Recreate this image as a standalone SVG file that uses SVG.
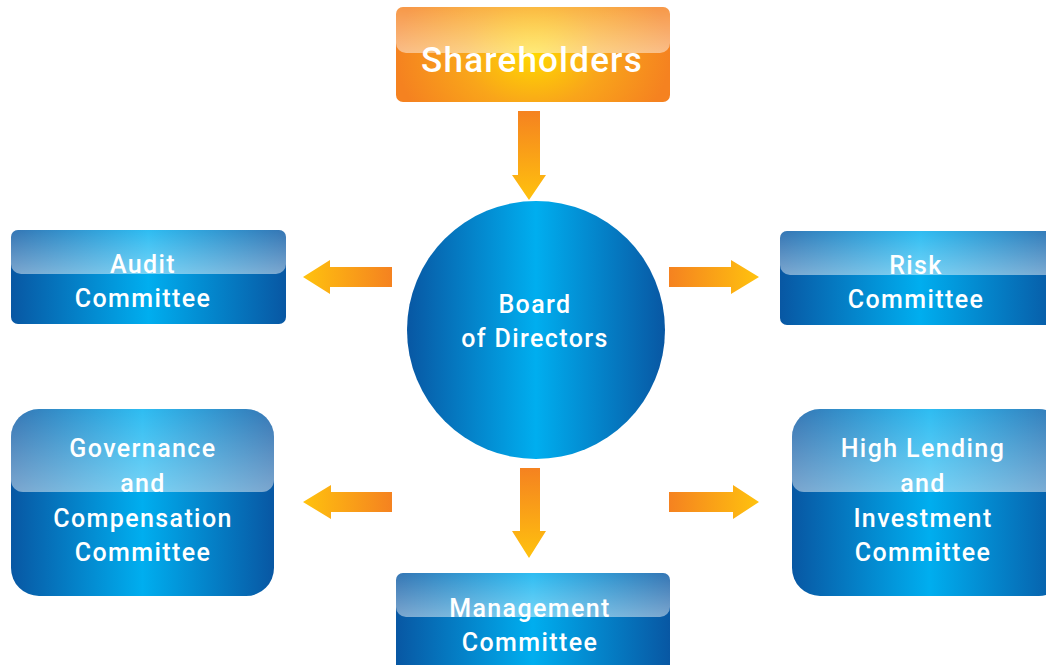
<svg xmlns="http://www.w3.org/2000/svg" width="1046" height="665" viewBox="0 0 1046 665">
<defs>
<linearGradient id="blue" x1="0" y1="0" x2="1" y2="0">
<stop offset="0" stop-color="#0857a3"/>
<stop offset="0.5" stop-color="#00aeef"/>
<stop offset="1" stop-color="#0857a3"/>
</linearGradient>
<linearGradient id="gloss" x1="0" y1="0" x2="0" y2="1">
<stop offset="0" stop-color="#ffffff" stop-opacity="0.18"/>
<stop offset="1" stop-color="#ffffff" stop-opacity="0.47"/>
</linearGradient>
<radialGradient id="orange" cx="0.5" cy="0.5" r="0.5" gradientTransform="translate(0.5 0.5) scale(1 2.2) translate(-0.5 -0.5)">
<stop offset="0" stop-color="#ffd800"/>
<stop offset="0.5" stop-color="#f9a51a"/>
<stop offset="1" stop-color="#f58220"/>
</radialGradient>
<linearGradient id="arrDown" x1="0" y1="0" x2="0" y2="1">
<stop offset="0" stop-color="#f58220"/>
<stop offset="1" stop-color="#ffc20e"/>
</linearGradient>
<linearGradient id="arrLeft" x1="1" y1="0" x2="0" y2="0">
<stop offset="0" stop-color="#f58220"/>
<stop offset="1" stop-color="#ffc20e"/>
</linearGradient>
<linearGradient id="arrRight" x1="0" y1="0" x2="1" y2="0">
<stop offset="0" stop-color="#f58220"/>
<stop offset="1" stop-color="#ffc20e"/>
</linearGradient>
</defs>
<style>
.box{fill:url(#blue);}
.gl{fill:url(#gloss);}
.t{font-family:Roboto,"Open Sans",sans-serif;font-weight:500;fill:#ffffff;text-anchor:middle;font-size:25px;letter-spacing:1.4px;}
</style>
<rect width="1046" height="665" fill="#ffffff"/>

<g id="connectors">
<path d="M518,111 H540 V175 H546 L529,200 L512,175 H518 Z" fill="url(#arrDown)"/>
<path d="M520,468 H540 V531 H546 L529,558 L512,531 H520 Z" fill="url(#arrDown)"/>
<path d="M392,267 V287 H330 V294 L303,277 L330,260 V267 Z" fill="url(#arrLeft)"/>
<path d="M392,492 V512 H331 V519 L303,502 L331,485 V492 Z" fill="url(#arrLeft)"/>
<path d="M669,267 V287 H731 V294 L759,277 L731,260 V267 Z" fill="url(#arrRight)"/>
<path d="M669,492 V512 H733 V519 L759,502 L733,485 V492 Z" fill="url(#arrRight)"/>
</g>

<g id="shareholders">
<rect x="396" y="7" width="274" height="95" rx="7" fill="url(#orange)"/>
<path class="gl" d="M396,14 a7,7 0 0 1 7,-7 H663 a7,7 0 0 1 7,7 V43 a10,10 0 0 1 -10,10 H406 a10,10 0 0 1 -10,-10 Z"/>
<text class="t" x="532" y="72" style="font-size:35px;letter-spacing:1.2px">Shareholders</text>
</g>

<g id="board">
<circle cx="536" cy="330" r="129" fill="url(#blue)"/>
<text class="t" x="535" y="313">Board</text>
<text class="t" x="535" y="347">of Directors</text>
</g>

<g id="audit">
<rect class="box" x="11" y="230" width="275" height="94" rx="7"/>
<path class="gl" d="M11,237 a7,7 0 0 1 7,-7 H279 a7,7 0 0 1 7,7 V264 a10,10 0 0 1 -10,10 H21 a10,10 0 0 1 -10,-10 Z"/>
<text class="t" x="143" y="273">Audit</text>
<text class="t" x="143" y="307">Committee</text>
</g>

<g id="risk">
<rect class="box" x="780" y="231" width="280" height="94" rx="7"/>
<path class="gl" d="M780,238 a7,7 0 0 1 7,-7 H1053 a7,7 0 0 1 7,7 V265 a10,10 0 0 1 -10,10 H790 a10,10 0 0 1 -10,-10 Z"/>
<text class="t" x="916" y="274">Risk</text>
<text class="t" x="916" y="308">Committee</text>
</g>

<g id="governance">
<rect class="box" x="11" y="409" width="263" height="187" rx="28"/>
<path class="gl" d="M11,437 a28,28 0 0 1 28,-28 H246 a28,28 0 0 1 28,28 V480 a12,12 0 0 1 -12,12 H23 a12,12 0 0 1 -12,-12 Z"/>
<text class="t" x="143" y="457">Governance</text>
<text class="t" x="143" y="492">and</text>
<text class="t" x="143" y="527">Compensation</text>
<text class="t" x="143" y="561">Committee</text>
</g>

<g id="highlending">
<rect class="box" x="792" y="409" width="275" height="187" rx="28"/>
<path class="gl" d="M792,437 a28,28 0 0 1 28,-28 H1039 a28,28 0 0 1 28,28 V480 a12,12 0 0 1 -12,12 H804 a12,12 0 0 1 -12,-12 Z"/>
<text class="t" x="923" y="457">High Lending</text>
<text class="t" x="923" y="492">and</text>
<text class="t" x="923" y="527">Investment</text>
<text class="t" x="923" y="561">Committee</text>
</g>

<g id="management">
<rect class="box" x="396" y="573" width="274" height="110" rx="7"/>
<path class="gl" d="M396,580 a7,7 0 0 1 7,-7 H663 a7,7 0 0 1 7,7 V607 a10,10 0 0 1 -10,10 H406 a10,10 0 0 1 -10,-10 Z"/>
<text class="t" x="530" y="617">Management</text>
<text class="t" x="530" y="651">Committee</text>
</g>
</svg>
